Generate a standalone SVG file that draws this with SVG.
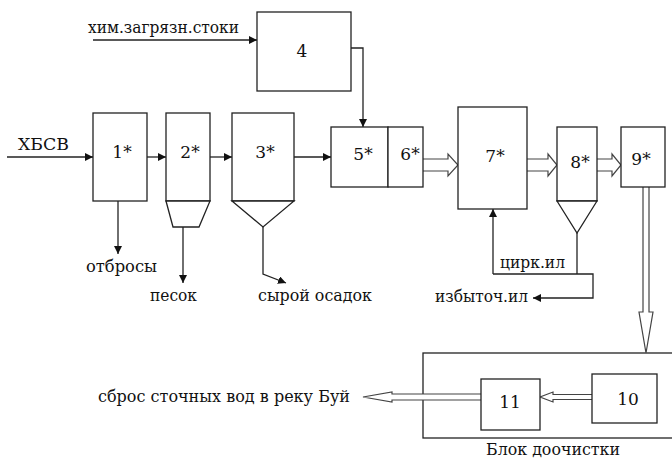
<svg xmlns="http://www.w3.org/2000/svg" width="672" height="459" viewBox="0 0 672 459">
<defs>
<marker id="ah" viewBox="0 0 10 10" refX="10" refY="5" markerWidth="8" markerHeight="8" markerUnits="userSpaceOnUse" orient="auto">
<path d="M0,0 L10,5 L0,10 Z" fill="#111"/>
</marker>
</defs>
<style>
.box{fill:#fff;stroke:#222;stroke-width:1.3}
.ln{fill:none;stroke:#222;stroke-width:1.3}
.ha{fill:#fff;stroke:#444;stroke-width:1.2}
text{font-family:'DejaVu Serif','Liberation Serif',serif;font-size:16.5px;fill:#111}
.c{text-anchor:middle;font-size:17px}
</style>
<rect width="672" height="459" fill="#fff"/>
<g id="block"><rect class="box" x="423" y="353" width="270" height="85"/><text x="486" y="455" textLength="134" lengthAdjust="spacingAndGlyphs">Блок доочистки</text></g>
<g id="connectors">
<path class="ln" d="M7,157 H93" marker-end="url(#ah)"/>
<path class="ln" d="M93,40 H257" marker-end="url(#ah)"/>
<path class="ln" d="M147,157 H166" marker-end="url(#ah)"/>
<path class="ln" d="M210,157 H232" marker-end="url(#ah)"/>
<path class="ln" d="M294,157 H331" marker-end="url(#ah)"/>
<path class="ln" d="M351,48 H363 V127" marker-end="url(#ah)"/>
<path class="ln" d="M118,201 V254" marker-end="url(#ah)"/>
<path class="ln" d="M183,227 V283" marker-end="url(#ah)"/>
<path class="ln" d="M263,227 V274 L286,283" marker-end="url(#ah)"/>
<path class="ln" d="M577,233 V274"/>
<path class="ln" d="M493,274 H593 V298 H533" marker-end="url(#ah)"/>
<path class="ln" d="M493,274 V209" marker-end="url(#ah)"/>
<path class="ha" d="M423,159 H448 V154 L458,165 L448,176 V171 H423"/>
<path class="ha" d="M527,159 H548 V154 L557,165 L548,176 V171 H527"/>
<path class="ha" d="M597,159 H612 V154 L621,165 L612,176 V171 H597"/>
<path class="ha" d="M643,187 V312 H639 L646,353 L653,312 H649 V187"/>
<path class="ha" d="M592,394.5 H553 V392 L540,397 L553,402 V399.5 H592"/>
<path class="ha" d="M481,394 H392 V392 L363,397 L392,402 V400 H481"/>
</g>
<g id="n4"><rect class="box" x="257" y="12" width="94" height="79"/><text class="c" x="302" y="57">4</text></g>
<g id="n1"><rect class="box" x="93" y="113" width="54" height="88"/><text class="c" x="122" y="158">1*</text></g>
<g id="n2"><rect class="box" x="166" y="113" width="44" height="88"/><path class="box" d="M166,201 L173,227 H199 L210,201 Z"/><text class="c" x="190" y="158">2*</text></g>
<g id="n3"><rect class="box" x="232" y="113" width="62" height="88"/><path class="box" d="M232,201 L263,227 L294,201 Z"/><text class="c" x="265" y="158">3*</text></g>
<g id="n5"><rect class="box" x="331" y="127" width="57" height="60"/><text class="c" x="363" y="160">5*</text></g>
<g id="n6"><rect class="box" x="388" y="127" width="35" height="60"/><text class="c" x="410" y="160">6*</text></g>
<g id="n7"><rect class="box" x="458" y="107" width="69" height="102"/><text class="c" x="495" y="162">7*</text></g>
<g id="n8"><rect class="box" x="557" y="127" width="40" height="74"/><path class="box" d="M557,201 L577,233 L597,201 Z"/><text class="c" x="580" y="168">8*</text></g>
<g id="n9"><rect class="box" x="621" y="127" width="44" height="60"/><text class="c" x="641" y="165">9*</text></g>
<g id="n10"><rect class="box" x="592" y="374" width="65" height="49"/><text class="c" x="628" y="405">10</text></g>
<g id="n11"><rect class="box" x="481" y="379" width="59" height="51"/><text class="c" x="510" y="408">11</text></g>
<g id="labels">
<text x="18" y="150" textLength="51" lengthAdjust="spacingAndGlyphs">ХБСВ</text>
<text x="88" y="33" textLength="151" lengthAdjust="spacingAndGlyphs">хим.загрязн.стоки</text>
<text x="86" y="272" textLength="71" lengthAdjust="spacingAndGlyphs">отбросы</text>
<text x="150" y="301" textLength="47" lengthAdjust="spacingAndGlyphs">песок</text>
<text x="258" y="301" textLength="114" lengthAdjust="spacingAndGlyphs">сырой осадок</text>
<text x="500" y="268" textLength="65" lengthAdjust="spacingAndGlyphs">цирк.ил</text>
<text x="435" y="302" textLength="93" lengthAdjust="spacingAndGlyphs">избыточ.ил</text>
<text x="98" y="402" textLength="252" lengthAdjust="spacingAndGlyphs">сброс сточных вод в реку Буй</text>
</g>
</svg>
